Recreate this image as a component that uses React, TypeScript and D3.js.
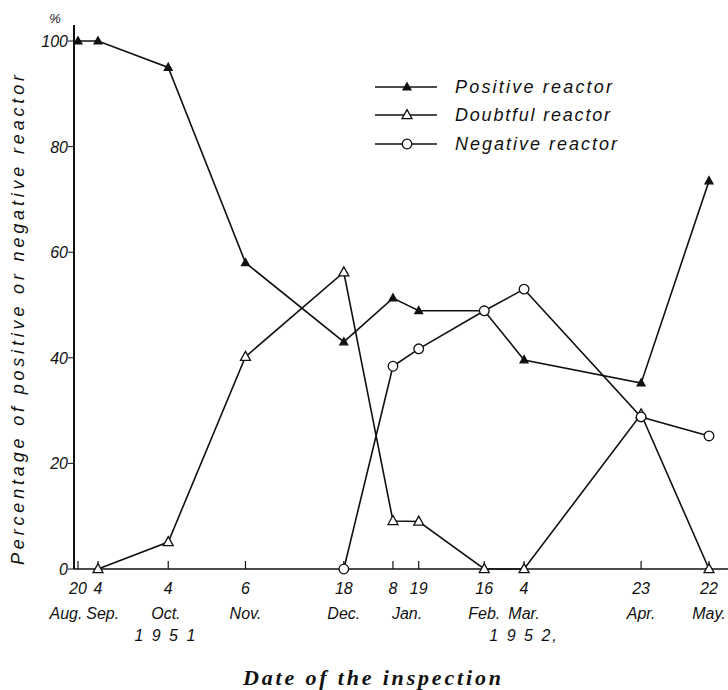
import React from "react";
import * as d3 from "d3";

const inspectionDates = [
  "1951-08-20", "1951-09-04", "1951-10-04", "1951-11-06", "1951-12-18",
  "1952-01-08", "1952-01-19", "1952-02-16", "1952-03-04", "1952-04-23", "1952-05-22",
];
const dayLabels = ["20", "4", "4", "6", "18", "8", "19", "16", "4", "23", "22"];
const positiveValues: (number | null)[] = [100, 100, 95, 58, 43, 51.3, 48.9, 48.9, 39.6, 35.2, 73.5];
const doubtfulValues: (number | null)[] = [null, 0, 5.1, 40.2, 56.2, 9.1, 9, 0, 0, 29.3, 0];
const negativeValues: (number | null)[] = [null, null, null, null, 0, 38.4, 41.7, 48.9, 53, 28.8, 25.2];

const monthLabels = ["Aug.", "Sep.", "Oct.", "Nov.", "Dec.", "Jan.", "Feb.", "Mar.", "Apr.", "May."];
const monthLabelDates = [
  "1951-08-11", "1951-09-06", "1951-10-03", "1951-11-06", "1951-12-18",
  "1952-01-14", "1952-02-16", "1952-03-04", "1952-04-23", "1952-05-22",
];
const yearLabels = ["1 9 5 1", "1 9 5 2,"];
const yearLabelDates = ["1951-10-03", "1952-03-04"];
const yTicks = [0, 20, 40, 60, 80, 100];

const seriesNames = ["Positive reactor", "Doubtful reactor", "Negative reactor"];

const parse = d3.timeParse("%Y-%m-%d");

export default function App() {
  const W = 728, H = 690;
  const d0 = parse(inspectionDates[0])!;
  const d1 = parse(inspectionDates[1])!;
  const dN = parse(inspectionDates[inspectionDates.length - 1])!;
  const x = d3.scaleTime().domain([d0, d1, dN]).range([78, 98, 709]);
  const y = d3.scaleLinear().domain([0, 100]).range([569, 41]);
  const axisX = 74;
  const dates = inspectionDates.map((s) => parse(s)!);

  const line = d3
    .line<[Date, number | null]>()
    .defined((d) => d[1] !== null)
    .x((d) => x(d[0]))
    .y((d) => y(d[1] as number));

  const series = [positiveValues, doubtfulValues, negativeValues].map((vals) =>
    dates.map((d, i) => [d, vals[i]] as [Date, number | null])
  );

  const font = "'Liberation Sans', Arial, sans-serif";
  const stroke = "#111";

  const tri = (cx: number, cy: number, s: number) => {
    const h = s * 0.9;
    return `M${cx},${cy - h * 0.6}L${cx + s / 2},${cy + h * 0.4}L${cx - s / 2},${cy + h * 0.4}Z`;
  };

  const marker = (k: number, cx: number, cy: number, key: string) => {
    if (k === 0)
      return <path key={key} d={tri(cx, cy, 8)} fill={stroke} stroke={stroke} strokeWidth={1.2} />;
    if (k === 1)
      return <path key={key} d={tri(cx, cy, 10)} fill="#fff" stroke={stroke} strokeWidth={1.3} />;
    return <circle key={key} cx={cx} cy={cy} r={4.8} fill="#fff" stroke={stroke} strokeWidth={1.3} />;
  };

  const legendY = [87, 115, 144];
  const legendLens = [157, 155, 162];

  return (
    <svg
      width={W}
      height={H}
      style={{ position: "absolute", left: 0, top: 0, background: "#fff" }}
      fontFamily={font}
    >
      <rect width={W} height={H} fill="#fff" />
      {/* axes */}
      <line x1={axisX} x2={axisX} y1={569} y2={25} stroke={stroke} strokeWidth={2} />
      <line x1={axisX} x2={728} y1={569} y2={569} stroke={stroke} strokeWidth={1.6} />
      {yTicks.map((t) => (
        <g key={"yt" + t}>
          <line x1={axisX - 6} x2={axisX} y1={y(t)} y2={y(t)} stroke={stroke} strokeWidth={1} />
          <text x={68} y={y(t) + 6} textAnchor="end" fontSize={16} fontStyle="italic" fill={stroke}>
            {t}
          </text>
        </g>
      ))}
      <text x={55} y={23} textAnchor="middle" fontSize={13} fontStyle="italic" fill={stroke}>
        %
      </text>
      {dates.map((d, i) => (
        <g key={"xt" + i}>
          <line x1={x(d)} x2={x(d)} y1={569} y2={561} stroke={stroke} strokeWidth={1.2} />
          <text x={x(d)} y={594} textAnchor="middle" fontSize={16} fontStyle="italic" fill={stroke}>
            {dayLabels[i]}
          </text>
        </g>
      ))}
      {monthLabels.map((m, i) => (
        <text
          key={"m" + i}
          x={x(parse(monthLabelDates[i])!)}
          y={619}
          textAnchor="middle"
          fontSize={16}
          fontStyle="italic"
          fill={stroke}
        >
          {m}
        </text>
      ))}
      {yearLabels.map((m, i) => (
        <text
          key={"yr" + i}
          x={x(parse(yearLabelDates[i])!)}
          y={641}
          textAnchor="middle"
          fontSize={16}
          fontStyle="italic"
          fill={stroke}
          letterSpacing={2}
        >
          {m}
        </text>
      ))}
      {/* y title */}
      <text
        transform="translate(24,320) rotate(-90)"
        textAnchor="middle"
        fontSize={18}
        fontStyle="italic"
        fill={stroke}
        textLength={490}
        lengthAdjust="spacing"
      >
        Percentage of positive or negative reactor
      </text>
      {/* x title */}
      <text
        x={372}
        y={685}
        textAnchor="middle"
        fontSize={22}
        fontStyle="italic"
        fontWeight="bold"
        fontFamily="'Liberation Serif', 'Times New Roman', serif"
        fill={stroke}
        textLength={258}
        lengthAdjust="spacing"
      >
        Date of the inspection
      </text>
      {/* lines */}
      {series.map((s, k) => (
        <path key={"l" + k} d={line(s) || ""} fill="none" stroke={stroke} strokeWidth={1.6} />
      ))}
      {series.map((s, k) =>
        s.filter((p) => p[1] !== null).map((p, i) => marker(k, x(p[0]), y(p[1] as number), `mk${k}-${i}`))
      )}
      {/* legend */}
      {seriesNames.map((n, k) => (
        <g key={"lg" + k}>
          <line x1={375} x2={437} y1={legendY[k]} y2={legendY[k]} stroke={stroke} strokeWidth={1.5} />
          {marker(k, 407, legendY[k], "lm" + k)}
          <text
            x={455}
            y={legendY[k] + 6}
            fontSize={18}
            fontStyle="italic"
            fill={stroke}
            textLength={legendLens[k]}
            lengthAdjust="spacing"
          >
            {n}
          </text>
        </g>
      ))}
    </svg>
  );
}
